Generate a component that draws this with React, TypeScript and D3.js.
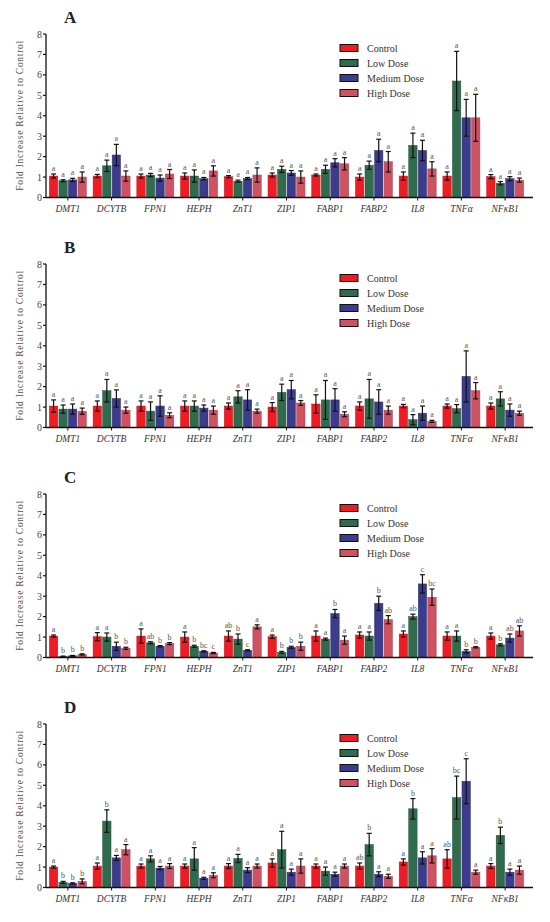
import React from "react";
import * as d3 from "d3";

const genes = ["DMT1", "DCYTB", "FPN1", "HEPH", "ZnT1", "ZIP1", "FABP1", "FABP2", "IL8", "TNFα", "NFκB1"];
const groups = ["Control", "Low Dose", "Medium Dose", "High Dose"];
const colors = ["#EE1C25", "#2F6B4C", "#3C3C8C", "#CF5262"];
const yTicks = [0, 1, 2, 3, 4, 5, 6, 7, 8];
const panelLabels = ["A", "B", "C", "D"];

// values per gene: [Control, Low, Medium, High]
const meansA = [
  [1.05, 0.82, 0.86, 1.0], [1.05, 1.55, 2.08, 1.05], [1.05, 1.1, 0.95, 1.15], [1.05, 1.05, 0.92, 1.3],
  [1.02, 0.8, 0.93, 1.1], [1.1, 1.38, 1.2, 1.0], [1.1, 1.38, 1.7, 1.65], [1.0, 1.58, 2.3, 1.75],
  [1.05, 2.55, 2.3, 1.4], [1.05, 5.7, 3.9, 3.9], [1.02, 0.7, 0.92, 0.85],
];
const errA = [
  [0.1, 0.05, 0.08, 0.25], [0.08, 0.28, 0.52, 0.25], [0.1, 0.08, 0.15, 0.22], [0.15, 0.3, 0.06, 0.25],
  [0.05, 0.05, 0.05, 0.35], [0.1, 0.15, 0.12, 0.3], [0.05, 0.2, 0.2, 0.3], [0.15, 0.2, 0.55, 0.5],
  [0.2, 0.6, 0.5, 0.35], [0.2, 1.45, 0.9, 1.15], [0.1, 0.08, 0.1, 0.1],
];
const lettersA = [
  ["a", "a", "a", "a"], ["a", "a", "a", "a"], ["a", "a", "a", "a"], ["a", "a", "a", "a"],
  ["a", "a", "a", "a"], ["a", "a", "a", "a"], ["a", "a", "a", "a"], ["a", "a", "a", "a"],
  ["a", "a", "a", "a"], ["a", "a", "a", "a"], ["a", "a", "a", "a"],
];

const meansB = [
  [1.05, 0.9, 0.9, 0.8], [1.05, 1.8, 1.42, 0.85], [1.05, 0.8, 1.05, 0.6], [1.05, 1.05, 0.95, 0.85],
  [1.05, 1.5, 1.35, 0.8], [1.0, 1.72, 1.85, 1.2], [1.15, 1.35, 1.35, 0.65], [1.05, 1.4, 1.25, 0.85],
  [1.05, 0.38, 0.7, 0.3], [1.05, 0.92, 2.5, 1.8], [1.05, 1.4, 0.85, 0.7],
];
const errB = [
  [0.3, 0.2, 0.25, 0.15], [0.25, 0.55, 0.42, 0.15], [0.25, 0.45, 0.5, 0.12], [0.25, 0.25, 0.15, 0.2],
  [0.15, 0.3, 0.5, 0.1], [0.22, 0.4, 0.45, 0.12], [0.45, 0.95, 0.55, 0.12], [0.2, 0.95, 0.6, 0.2],
  [0.08, 0.25, 0.35, 0.05], [0.1, 0.2, 1.25, 0.4], [0.15, 0.35, 0.3, 0.1],
];
const lettersB = lettersA;

const meansC = [
  [1.05, 0.05, 0.08, 0.15], [1.02, 1.0, 0.55, 0.45], [1.05, 0.72, 0.55, 0.68], [1.0, 0.55, 0.3, 0.22],
  [1.05, 0.9, 0.35, 1.5], [1.02, 0.25, 0.5, 0.55], [1.05, 0.9, 2.15, 0.85], [1.1, 1.05, 2.65, 1.85],
  [1.15, 2.0, 3.6, 2.95], [1.05, 1.05, 0.3, 0.5], [1.05, 0.62, 0.95, 1.3],
];
const errC = [
  [0.05, 0.02, 0.02, 0.03], [0.2, 0.2, 0.2, 0.05], [0.35, 0.05, 0.03, 0.05], [0.25, 0.05, 0.03, 0.03],
  [0.25, 0.25, 0.03, 0.1], [0.08, 0.05, 0.05, 0.2], [0.25, 0.05, 0.2, 0.2], [0.15, 0.2, 0.35, 0.2],
  [0.15, 0.12, 0.45, 0.4], [0.2, 0.25, 0.08, 0.03], [0.15, 0.05, 0.2, 0.25],
];
const lettersC = [
  ["a", "b", "b", "b"], ["a", "a", "b", "b"], ["a", "ab", "b", "b"], ["a", "b", "bc", "c"],
  ["ab", "b", "c", "a"], ["a", "b", "b", "b"], ["a", "a", "b", "a"], ["a", "a", "b", "ab"],
  ["a", "ab", "c", "bc"], ["a", "a", "b", "b"], ["a", "b", "ab", "ab"],
];

const meansD = [
  [1.0, 0.25, 0.2, 0.3], [1.05, 3.25, 1.45, 1.85], [1.05, 1.4, 0.95, 1.05], [1.05, 1.4, 0.45, 0.6],
  [1.05, 1.42, 0.85, 1.05], [1.2, 1.85, 0.75, 1.05], [1.05, 0.8, 0.65, 1.05], [1.05, 2.1, 0.65, 0.55],
  [1.25, 3.85, 1.45, 1.55], [1.4, 4.4, 5.2, 0.75], [1.05, 2.55, 0.75, 0.85],
];
const errD = [
  [0.05, 0.05, 0.03, 0.12], [0.15, 0.55, 0.12, 0.25], [0.1, 0.15, 0.08, 0.12], [0.1, 0.55, 0.05, 0.12],
  [0.12, 0.2, 0.12, 0.1], [0.2, 0.9, 0.15, 0.35], [0.1, 0.2, 0.1, 0.1], [0.15, 0.55, 0.12, 0.1],
  [0.15, 0.5, 0.3, 0.35], [0.45, 1.05, 1.1, 0.1], [0.12, 0.4, 0.15, 0.2],
];
const lettersD = [
  ["a", "b", "b", "b"], ["a", "b", "a", "a"], ["a", "a", "a", "a"], ["a", "a", "a", "a"],
  ["a", "a", "a", "a"], ["a", "a", "a", "a"], ["a", "a", "a", "a"], ["ab", "b", "a", "a"],
  ["a", "b", "a", "a"], ["ab", "bc", "c", "a"], ["a", "b", "a", "a"],
];

const panels = [
  { label: panelLabels[0], means: meansA, errs: errA, letters: lettersA },
  { label: panelLabels[1], means: meansB, errs: errB, letters: lettersB },
  { label: panelLabels[2], means: meansC, errs: errC, letters: lettersC },
  { label: panelLabels[3], means: meansD, errs: errD, letters: lettersD },
];

const W = 550;
const H = 922;
const axisX = 46;
const xRight = 527;
const panelTops = [34, 264, 494, 724];
const plotH = 163.5;

const serif = "'Liberation Serif', 'DejaVu Serif', serif";

function Panel({ top, p }: { top: number; p: typeof panels[number] }) {
  const y = d3.scaleLinear().domain([0, 8]).range([top + plotH, top]);
  const x = d3.scaleBand<string>().domain(genes).range([axisX, xRight]).paddingInner(0).paddingOuter(0);
  const inner = d3.scaleBand<string>().domain(groups).range([-18.5, 18.5]).paddingInner(0.12);
  const base = y(0);
  return (
    <g>
      <text x={64} y={top - 11} fontFamily={serif} fontSize={17} fontWeight="bold" fill="#222">{p.label}</text>
      <text
        transform={`translate(${23},${top + plotH / 2}) rotate(-90)`}
        textAnchor="middle"
        fontFamily={serif}
        fontSize={9.5}
        fill="#555"
        textLength={150}
      >
        Fold Increase Relative to Control
      </text>
      {/* bars */}
      {genes.map((g, gi) => (
        <g key={g} transform={`translate(${x(g)! + x.bandwidth() / 2},0)`}>
          {groups.map((s, si) => {
            const v = p.means[gi][si];
            const e = p.errs[gi][si];
            const bx = inner(s)!;
            const bw = inner.bandwidth();
            const cx = bx + bw / 2;
            const yt = y(v + e);
            const yb = y(Math.max(0, v - e));
            return (
              <g key={s}>
                <rect x={bx} y={y(v)} width={bw} height={base - y(v)} fill={colors[si]} stroke={d3.color(colors[si])!.darker(0.6).toString()} strokeWidth={0.5} />
                <line x1={cx} x2={cx} y1={yt} y2={yb} stroke="#111" strokeWidth={1.2} />
                <line x1={cx - 2.5} x2={cx + 2.5} y1={yt} y2={yt} stroke="#111" strokeWidth={1.2} />
                <line x1={cx - 2.5} x2={cx + 2.5} y1={yb} y2={yb} stroke="#111" strokeWidth={1.2} />
                <text x={cx} y={yt - 3} textAnchor="middle" fontFamily={serif} fontSize={8} fill="#555">{p.letters[gi][si]}</text>
              </g>
            );
          })}
          <line x1={0} x2={0} y1={base} y2={base + 3} stroke="#111" strokeWidth={1} />
          <text x={0} y={base + 14} textAnchor="middle" fontFamily={serif} fontStyle="italic" fontSize={9.5} fill="#333">{g}</text>
        </g>
      ))}
      {/* axes */}
      <line x1={axisX} x2={533} y1={base} y2={base} stroke="#111" strokeWidth={1.3} />
      <line x1={axisX} x2={axisX} y1={top} y2={base} stroke="#111" strokeWidth={1.3} />
      {yTicks.map((t) => (
        <g key={t}>
          <line x1={axisX - 3} x2={axisX} y1={y(t)} y2={y(t)} stroke="#111" strokeWidth={1.2} />
          <text x={axisX - 4} y={y(t) + 3.5} textAnchor="end" fontFamily={serif} fontSize={10} fill="#444">{t}</text>
        </g>
      ))}
      {/* legend */}
      {groups.map((s, si) => {
        const ly = top + 14 + si * 15;
        return (
          <g key={s}>
            <rect x={340} y={ly - 3.5} width={18} height={7} fill={colors[si]} stroke="#111" strokeWidth={1} />
            <text x={367} y={ly + 3.5} fontFamily={serif} fontSize={10} fill="#333">{s}</text>
          </g>
        );
      })}
    </g>
  );
}

export default function App() {
  return (
    <svg width={W} height={H} style={{ position: "absolute", left: 0, top: 0, background: "#fff" }}>
      <rect width={W} height={H} fill="#fff" />
      {panels.map((p, i) => (
        <Panel key={p.label} top={panelTops[i]} p={p} />
      ))}
    </svg>
  );
}
